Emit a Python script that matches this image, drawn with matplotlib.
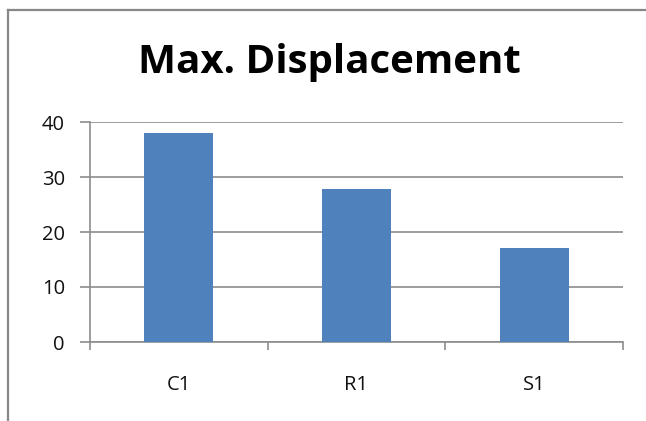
import matplotlib.pyplot as plt
from matplotlib.lines import Line2D

# chart data
categories = ["C1", "R1", "S1"]
values = [38.0, 27.8, 17.1]
yticks = [0, 10, 20, 30, 40]

fig = plt.figure(figsize=(6.46, 4.21), dpi=100)
W, H = 646, 421

# axes placed by pixel bounds of the plot area
left, right, top, bottom = 90, 623, 122, 342
ax = fig.add_axes([left / W, 1 - bottom / H, (right - left) / W, (bottom - top) / H])

font = "Open Sans"

ax.bar(range(len(categories)), values, width=0.39, color="#4F81BD", zorder=3)
ax.set_xlim(-0.5, len(categories) - 0.5)
ax.set_ylim(0, 40)

ax.set_yticks(yticks)
ax.set_yticklabels([str(t) for t in yticks], fontsize=14.5, family=font, color="#111111")
ax.yaxis.grid(True, color="#8c8c8c", linewidth=1.2, zorder=0)
ax.tick_params(axis="y", length=7, width=1.2, color="#8c8c8c", pad=11)

# category labels centered, tick marks at category boundaries
ax.set_xticks([i - 0.5 for i in range(len(categories) + 1)])
ax.set_xticklabels([])
ax.set_xticks(range(len(categories)), minor=True)
ax.set_xticklabels(categories, minor=True, fontsize=14.5, family=font, color="#111111")
ax.tick_params(axis="x", which="major", length=5.5, width=1.2, color="#8c8c8c")
ax.tick_params(axis="x", which="minor", length=0, pad=24)

for s in ["top", "right"]:
    ax.spines[s].set_visible(False)
for s in ["left", "bottom"]:
    ax.spines[s].set_color("#8c8c8c")
    ax.spines[s].set_linewidth(1.2)

fig.text(329 / W, 1 - 62 / H, "Max. Displacement", ha="center", va="center",
         fontsize=29, fontweight="bold", family=font, color="black")

# outer chart border (left and top visible)
fig.add_artist(Line2D([8 / W, 8 / W], [0, 1 - 10 / H], transform=fig.transFigure,
                      color="#888888", linewidth=1.6))
fig.add_artist(Line2D([8 / W, 1], [1 - 10 / H, 1 - 10 / H], transform=fig.transFigure,
                      color="#888888", linewidth=1.6))

fig.savefig("out.png", dpi=100)
